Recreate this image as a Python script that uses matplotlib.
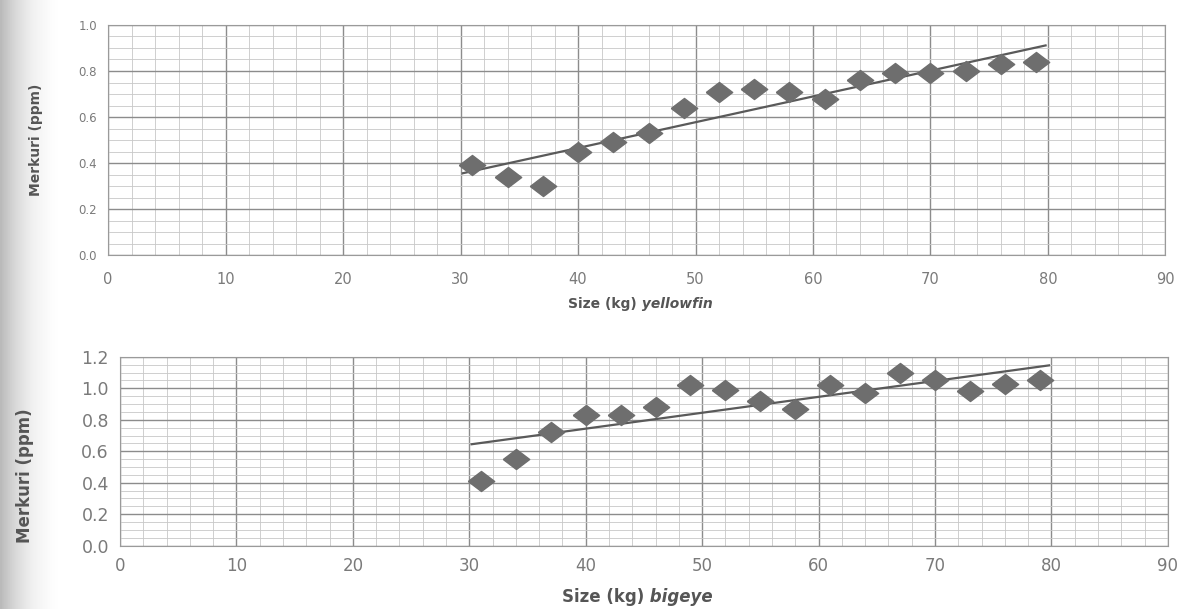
import numpy as np
import matplotlib
matplotlib.use("Agg")
from matplotlib import pyplot
from matplotlib.ticker import MultipleLocator

# yellowfin (top panel)
yf_size = [31, 34, 37, 40, 43, 46, 49, 52, 55, 58, 61, 64, 67, 70, 73, 76, 79]
yf_hg = [0.39, 0.34, 0.30, 0.45, 0.49, 0.53, 0.64, 0.71, 0.72, 0.71, 0.68,
         0.76, 0.79, 0.79, 0.80, 0.83, 0.84]

# bigeye (bottom panel)
be_size = [31, 34, 37, 40, 43, 46, 49, 52, 55, 58, 61, 64, 67, 70, 73, 76, 79]
be_hg = [0.41, 0.55, 0.72, 0.83, 0.83, 0.88, 1.02, 0.99, 0.92, 0.87, 1.02,
         0.97, 1.10, 1.05, 0.98, 1.03, 1.05]

x_ticks = list(range(0, 91, 10))
yf_yticks = [0.0, 0.2, 0.4, 0.6, 0.8, 1.0]
be_yticks = [0.0, 0.2, 0.4, 0.6, 0.8, 1.0, 1.2]

GRAY = "#6e6e6e"
TXT = "#7a7a7a"
# slightly flattened diamond, like the scanned markers
DIAMOND = [(-1, 0), (0, 0.76), (1, 0), (0, -0.76), (-1, 0)]


def panel(ax, x, y, yticks, xlab_a, xlab_b, fs_xt, fs_yt, fs_lab, pad, lab_y,
          ylab_x, ylab_y):
    ax.set_xlim(0, 90)
    ax.set_ylim(yticks[0], yticks[-1])
    ax.set_xticks(x_ticks)
    ax.set_yticks(yticks)
    ax.set_yticklabels([f"{v:.1f}" for v in yticks])
    ax.xaxis.set_minor_locator(MultipleLocator(2))
    ax.yaxis.set_minor_locator(MultipleLocator(0.05))
    ax.grid(which="major", color="#8c8c8c", lw=1.0)
    ax.grid(which="minor", color="#c8c8c8", lw=0.6)
    ax.set_axisbelow(True)
    for s in ax.spines.values():
        s.set_color("#9a9a9a")
    ax.tick_params(which="both", length=0, colors=TXT)
    ax.tick_params(axis="x", labelsize=fs_xt, pad=pad)
    ax.tick_params(axis="y", labelsize=fs_yt, pad=8)

    # linear trend line over the data range
    k, b = np.polyfit(x, y, 1)
    xs = np.array([x[0] - 0.8, x[-1] + 0.8])
    ax.plot(xs, k * xs + b, color="#5a5a5a", lw=1.6, zorder=3)
    ax.plot(x, y, marker=DIAMOND, ls="none", color=GRAY, ms=19, mec=GRAY,
            zorder=4)

    ax.set_ylabel("Merkuri (ppm)", fontsize=fs_lab, fontweight="bold",
                  color="#555555")
    ax.yaxis.set_label_coords(ylab_x, ylab_y)
    ax.text(0.5, lab_y, xlab_a, transform=ax.transAxes, ha="right",
            va="center", fontsize=fs_lab, fontweight="bold", color="#555555")
    ax.text(0.5, lab_y, " " + xlab_b, transform=ax.transAxes, ha="left",
            va="center", fontsize=fs_lab, fontweight="bold", style="italic",
            color="#555555")


fig = pyplot.figure(figsize=(11.88, 6.09), dpi=100)

# grey shading along the left edge of the scan
bg = fig.add_axes([0, 0, 1, 1], zorder=-10)
fade = np.clip(1 - np.linspace(0, 1, 600) / 0.05, 0, 1) ** 1.5
bg.imshow(fade[None, :], aspect="auto", cmap="Greys", vmin=0, vmax=2.6,
          extent=[0, 1, 0, 1])
bg.set_axis_off()

ax1 = fig.add_axes([0.091, 0.581, 0.890, 0.378])
ax2 = fig.add_axes([0.101, 0.104, 0.882, 0.310])

panel(ax1, yf_size, yf_hg, yf_yticks, "Size (kg)", "yellowfin",
      10.5, 8.5, 10, 12, -0.213, -0.062, 0.5)
panel(ax2, be_size, be_hg, be_yticks, "Size (kg)", "bigeye",
      12, 12.5, 12, 8, -0.27, -0.082, 0.37)

pyplot.savefig("out.png", dpi=100)
